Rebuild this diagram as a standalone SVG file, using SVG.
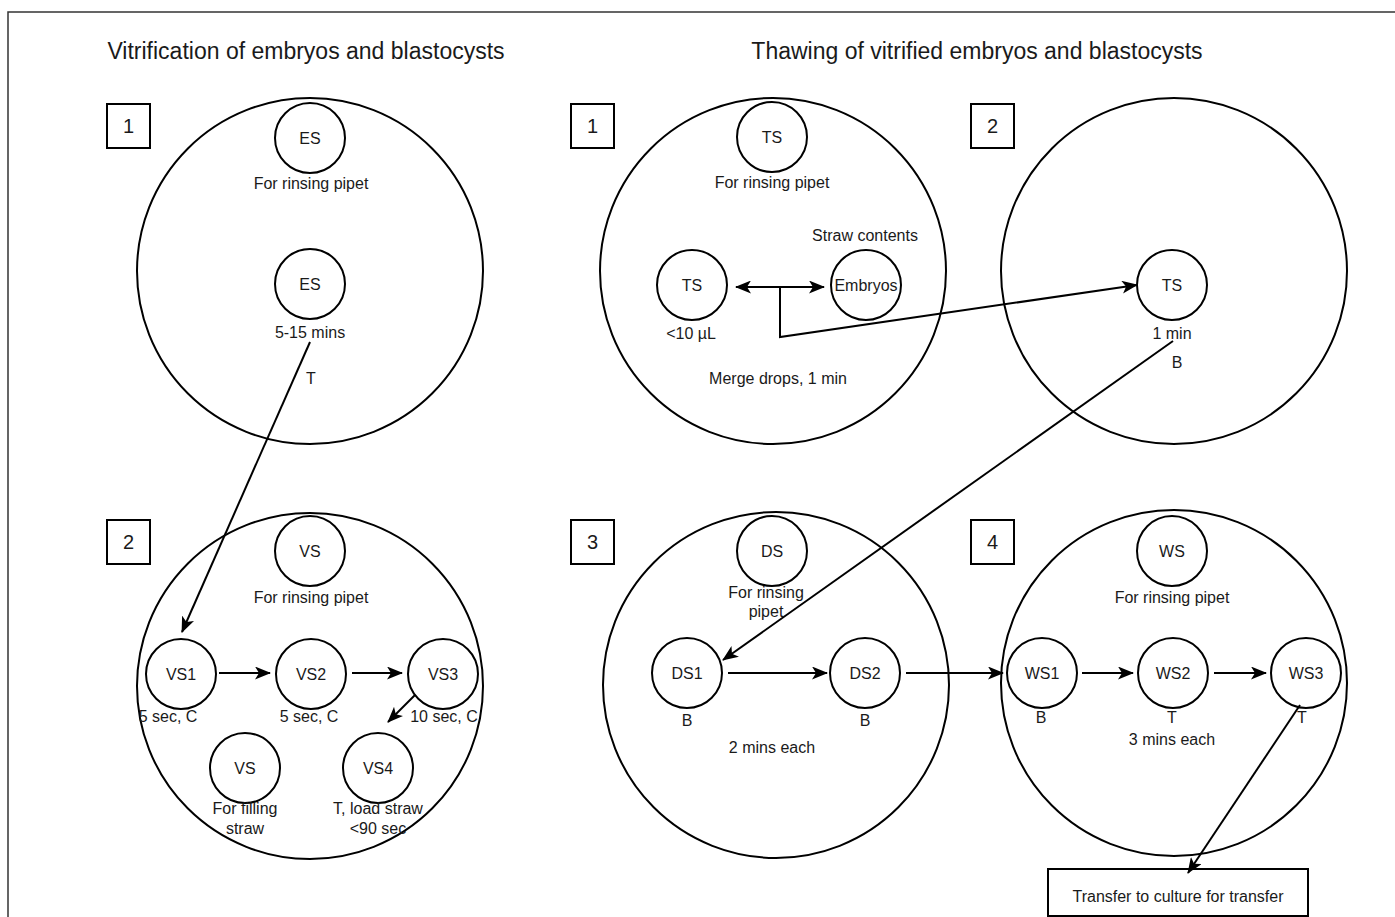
<svg xmlns="http://www.w3.org/2000/svg" width="1395" height="917" viewBox="0 0 1395 917">
<defs>
<style>
.dish{fill:none;stroke:#000;stroke-width:2}
.drop{fill:#fff;stroke:#000;stroke-width:2}
.num{fill:#fff;stroke:#000;stroke-width:2}
.t{font-family:"Liberation Sans",Arial,Helvetica,sans-serif;font-size:16px;fill:#1a1a1a;text-anchor:middle}
.title{font-family:"Liberation Sans",Arial,Helvetica,sans-serif;font-size:23px;fill:#1a1a1a;text-anchor:middle}
.n{font-family:"Liberation Sans",Arial,Helvetica,sans-serif;font-size:20px;fill:#1a1a1a;text-anchor:middle}
.c{fill:none;stroke:#000;stroke-width:2}
</style>
<marker id="ah" viewBox="0 0 16 13" refX="15" refY="6.5" markerWidth="16" markerHeight="13" markerUnits="userSpaceOnUse" orient="auto-start-reverse"><path d="M0,0 L16,6.5 L0,13 L4,6.5 z" fill="#000"/></marker>
</defs>
<rect width="1395" height="917" fill="#fff"/>
<rect x="8" y="12" width="1400" height="920" fill="none" stroke="#333" stroke-width="1.5"/>
<text class="title" x="306" y="59">Vitrification of embryos and blastocysts</text>
<text class="title" x="977" y="59">Thawing of vitrified embryos and blastocysts</text>

<g id="vit1">
<rect class="num" x="107" y="104" width="43" height="44"/><text class="n" x="128.5" y="133">1</text>
<circle class="dish" cx="310" cy="271" r="173"/>
<circle class="drop" cx="310" cy="138" r="35"/><text class="t" x="310" y="144">ES</text>
<text class="t" x="311" y="189">For rinsing pipet</text>
<circle class="drop" cx="310" cy="284" r="35"/><text class="t" x="310" y="290">ES</text>
<text class="t" x="310" y="338">5-15 mins</text>
<text class="t" x="311" y="384">T</text>
</g>

<g id="vit2">
<rect class="num" x="107" y="520" width="43" height="44"/><text class="n" x="128.5" y="549">2</text>
<circle class="dish" cx="310" cy="686" r="173"/>
<circle class="drop" cx="310" cy="551" r="35"/><text class="t" x="310" y="557">VS</text>
<text class="t" x="311" y="603">For rinsing pipet</text>
<circle class="drop" cx="181" cy="674" r="35"/><text class="t" x="181" y="680">VS1</text>
<circle class="drop" cx="311" cy="674" r="35"/><text class="t" x="311" y="680">VS2</text>
<circle class="drop" cx="443" cy="674" r="35"/><text class="t" x="443" y="680">VS3</text>
<text class="t" x="168" y="722">5 sec, C</text>
<text class="t" x="309" y="722">5 sec, C</text>
<text class="t" x="444" y="722">10 sec, C</text>
<circle class="drop" cx="245" cy="768" r="35"/><text class="t" x="245" y="774">VS</text>
<circle class="drop" cx="378" cy="768" r="35"/><text class="t" x="378" y="774">VS4</text>
<text class="t" x="245" y="814">For filling</text>
<text class="t" x="245" y="834">straw</text>
<text class="t" x="378" y="814">T, load straw</text>
<text class="t" x="378" y="834">&lt;90 sec</text>
</g>

<g id="thaw1">
<rect class="num" x="571" y="104" width="43" height="44"/><text class="n" x="592.5" y="133">1</text>
<circle class="dish" cx="773" cy="271" r="173"/>
<circle class="drop" cx="772" cy="137" r="35"/><text class="t" x="772" y="143">TS</text>
<text class="t" x="772" y="188">For rinsing pipet</text>
<text class="t" x="865" y="241">Straw contents</text>
<circle class="drop" cx="692" cy="285" r="35"/><text class="t" x="692" y="291">TS</text>
<circle class="drop" cx="866" cy="285" r="35"/><text class="t" x="866" y="291">Embryos</text>
<text class="t" x="691" y="339">&lt;10 µL</text>
<text class="t" x="778" y="384">Merge drops, 1 min</text>
</g>

<g id="thaw2">
<rect class="num" x="971" y="104" width="43" height="44"/><text class="n" x="992.5" y="133">2</text>
<circle class="dish" cx="1174" cy="271" r="173"/>
<circle class="drop" cx="1172" cy="285" r="35"/><text class="t" x="1172" y="291">TS</text>
<text class="t" x="1172" y="339">1 min</text>
<text class="t" x="1177" y="368">B</text>
</g>

<g id="thaw3">
<rect class="num" x="571" y="520" width="43" height="44"/><text class="n" x="592.5" y="549">3</text>
<circle class="dish" cx="776" cy="685" r="173"/>
<circle class="drop" cx="772" cy="551" r="35"/><text class="t" x="772" y="557">DS</text>
<text class="t" x="766" y="598">For rinsing</text>
<text class="t" x="766" y="617">pipet</text>
<circle class="drop" cx="687" cy="673" r="35"/><text class="t" x="687" y="679">DS1</text>
<circle class="drop" cx="865" cy="673" r="35"/><text class="t" x="865" y="679">DS2</text>
<text class="t" x="687" y="726">B</text>
<text class="t" x="865" y="726">B</text>
<text class="t" x="772" y="753">2 mins each</text>
</g>

<g id="thaw4">
<rect class="num" x="971" y="520" width="43" height="44"/><text class="n" x="992.5" y="549">4</text>
<circle class="dish" cx="1174" cy="683" r="173"/>
<circle class="drop" cx="1172" cy="551" r="35"/><text class="t" x="1172" y="557">WS</text>
<text class="t" x="1172" y="603">For rinsing pipet</text>
<circle class="drop" cx="1042" cy="673" r="35"/><text class="t" x="1042" y="679">WS1</text>
<circle class="drop" cx="1173" cy="673" r="35"/><text class="t" x="1173" y="679">WS2</text>
<circle class="drop" cx="1306" cy="673" r="35"/><text class="t" x="1306" y="679">WS3</text>
<text class="t" x="1041" y="723">B</text>
<text class="t" x="1172" y="723">T</text>
<text class="t" x="1302" y="723">T</text>
<text class="t" x="1172" y="745">3 mins each</text>
</g>

<g id="transfer">
<rect x="1048" y="869" width="260" height="47" fill="#fff" stroke="#000" stroke-width="2"/>
<text class="t" x="1178" y="902">Transfer to culture for transfer</text>
</g>

<g id="connectors">
<path class="c" d="M310,342 L182,632" marker-end="url(#ah)"/>
<path class="c" d="M219,673 L270,673" marker-end="url(#ah)"/>
<path class="c" d="M352,673 L402,673" marker-end="url(#ah)"/>
<path class="c" d="M415,695 L388,722" marker-end="url(#ah)"/>
<path class="c" d="M736,287 L824,287" marker-start="url(#ah)" marker-end="url(#ah)"/>
<path class="c" d="M780,287 L780,337 L1137,285" marker-end="url(#ah)"/>
<path class="c" d="M1173,341 L723,660" marker-end="url(#ah)"/>
<path class="c" d="M728,673 L827,673" marker-end="url(#ah)"/>
<path class="c" d="M906,673 L1003,673" marker-end="url(#ah)"/>
<path class="c" d="M1082,673 L1133,673" marker-end="url(#ah)"/>
<path class="c" d="M1214,673 L1266,673" marker-end="url(#ah)"/>
<path class="c" d="M1300,705 L1188,873" marker-end="url(#ah)"/>
</g>
</svg>
